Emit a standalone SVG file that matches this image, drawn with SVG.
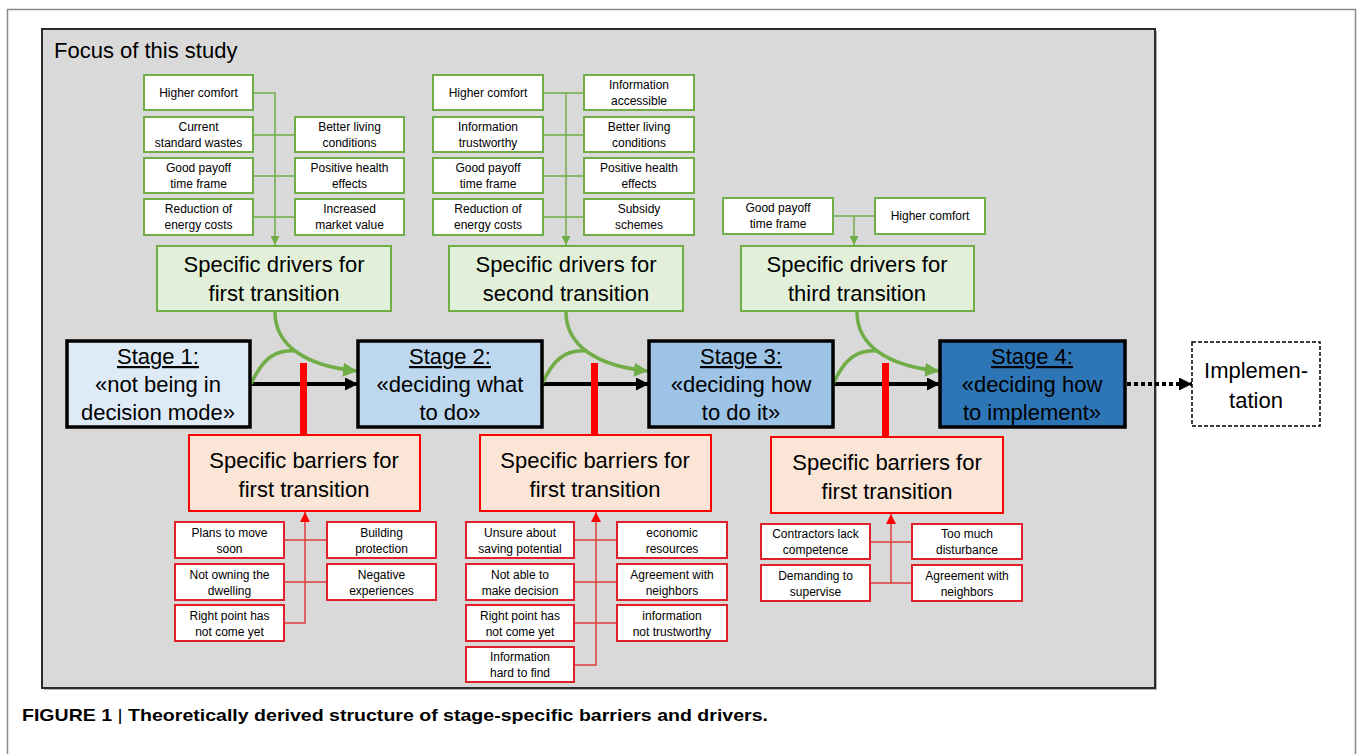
<svg xmlns="http://www.w3.org/2000/svg" width="1357" height="754" viewBox="0 0 1357 754">
<style>
text{font-family:"Liberation Sans","DejaVu Sans",sans-serif;fill:#000;}
.it{font-size:12px;text-anchor:middle;}
.big{font-size:22px;text-anchor:middle;}
.st{font-size:22px;text-anchor:middle;}
.dbox{fill:#fff;stroke:#70ad47;stroke-width:2;}
.bbox{fill:#fff;stroke:#e0202a;stroke-width:2;}
.dmain{fill:#e2f0d9;stroke:#70ad47;stroke-width:2;}
.bmain{fill:#fbe5d6;stroke:#ff0000;stroke-width:2;}
.stage{stroke:#000;stroke-width:3.5;}
.gl{fill:none;stroke:#70ad47;stroke-width:1.5;}
.rl{fill:none;stroke:#e03c3c;stroke-width:1.5;}
.gc{fill:none;stroke:#70ad47;stroke-width:3.5;}
.bk{fill:none;stroke:#000;stroke-width:4;}
.bar{fill:#ff0000;}
</style>
<defs>
<marker id="aBlack" viewBox="0 0 10 10" refX="10" refY="5" markerWidth="13" markerHeight="13" markerUnits="userSpaceOnUse" orient="auto"><path d="M0,0 L10,5 L0,10 z" fill="#000"/></marker>
<marker id="aGreen" viewBox="0 0 10 10" refX="10" refY="5" markerWidth="14" markerHeight="14" markerUnits="userSpaceOnUse" orient="auto"><path d="M0,0 L10,5 L0,10 z" fill="#70ad47"/></marker>
<marker id="aGreenS" viewBox="0 0 10 10" refX="10" refY="5" markerWidth="9" markerHeight="9" markerUnits="userSpaceOnUse" orient="auto"><path d="M0,0 L10,5 L0,10 z" fill="#70ad47"/></marker>
<marker id="aRedS" viewBox="0 0 10 10" refX="10" refY="5" markerWidth="10" markerHeight="10" markerUnits="userSpaceOnUse" orient="auto"><path d="M0,0 L10,5 L0,10 z" fill="#ff0000"/></marker>
</defs>

<rect x="0" y="0" width="1357" height="754" fill="#fff"/>
<path d="M7.5,760 V9.5 H1355.5 V760" fill="none" stroke="#8a8a8a" stroke-width="1.5"/>

<g id="panel">
<rect x="44" y="31" width="1113" height="659" fill="#6a6a6a" opacity="0.5"/>
<rect x="42" y="29" width="1113" height="659" fill="#d9d9d9" stroke="#2b2b2b" stroke-width="2"/>
<text x="54" y="58" style="font-size:22px">Focus of this study</text>
</g>

<g id="connectors">
<path class="gl" d="M253,93 H275 V245" marker-end="url(#aGreenS)"/>
<path class="gl" d="M253,135 H295 M253,176 H295 M253,217 H295"/>
<path class="gl" d="M543,93 H584 M543,135 H584 M543,176 H584 M543,217 H584"/>
<path class="gl" d="M566,93 V245" marker-end="url(#aGreenS)"/>
<path class="gl" d="M833,216 H875"/>
<path class="gl" d="M854,216 V245" marker-end="url(#aGreenS)"/>
<path class="rl" d="M284,540 H327 M284,582 H327"/>
<path class="rl" d="M284,623 H305 V512" marker-end="url(#aRedS)"/>
<path class="rl" d="M574,540 H617 M574,582 H617 M574,623 H617"/>
<path class="rl" d="M574,665 H596 V512" marker-end="url(#aRedS)"/>
<path class="rl" d="M870,542 H912 M870,583 H912"/>
<path class="rl" d="M891,583 V514" marker-end="url(#aRedS)"/>
<path class="bk" d="M251,384 H358" marker-end="url(#aBlack)"/>
<path class="bk" d="M542,384 H649" marker-end="url(#aBlack)"/>
<path class="bk" d="M833,384 H940" marker-end="url(#aBlack)"/>
<path class="bk" d="M1127,384 H1192" stroke-dasharray="4 3" marker-end="url(#aBlack)"/>
<path class="gc" d="M275,312 C275,345 305,366 357,371" marker-end="url(#aGreen)"/>
<path class="gc" d="M251,384 C262,360 274,349 296,351"/>
<path class="gc" d="M566,312 C566,345 596,366 648,371" marker-end="url(#aGreen)"/>
<path class="gc" d="M542,384 C553,360 565,349 587,351"/>
<path class="gc" d="M857,312 C857,345 887,366 939,371" marker-end="url(#aGreen)"/>
<path class="gc" d="M833,384 C844,360 856,349 878,351"/>
<rect class="bar" x="300" y="363" width="7" height="73"/>
<rect class="bar" x="591" y="363" width="7" height="73"/>
<rect class="bar" x="882" y="363" width="7" height="75"/>
</g>

<g id="stage1"><rect class="stage" x="67" y="341" width="183" height="86" fill="#deebf7"/>
<text class="st" x="158" y="364" text-decoration="underline">Stage 1:</text>
<text class="st" x="158" y="392">«not being in</text>
<text class="st" x="158" y="420">decision mode»</text></g>
<g id="stage2"><rect class="stage" x="358" y="341" width="184" height="86" fill="#bdd7ee"/>
<text class="st" x="450" y="364" text-decoration="underline">Stage 2:</text>
<text class="st" x="450" y="392">«deciding what</text>
<text class="st" x="450" y="420">to do»</text></g>
<g id="stage3"><rect class="stage" x="649" y="341" width="184" height="86" fill="#9dc3e6"/>
<text class="st" x="741" y="364" text-decoration="underline">Stage 3:</text>
<text class="st" x="741" y="392">«deciding how</text>
<text class="st" x="741" y="420">to do it»</text></g>
<g id="stage4"><rect class="stage" x="940" y="341" width="185" height="86" fill="#2e75b6"/>
<text class="st" x="1032" y="364" text-decoration="underline">Stage 4:</text>
<text class="st" x="1032" y="392">«deciding how</text>
<text class="st" x="1032" y="420">to implement»</text></g>
<g id="implementation"><rect x="1192" y="342" width="128" height="84" fill="#fff" stroke="#000" stroke-width="1.5" stroke-dasharray="4 2"/>
<text class="st" x="1256" y="378">Implemen-</text>
<text class="st" x="1256" y="408">tation</text></g>

<g id="drivers1"><rect class="dmain" x="157" y="246" width="234" height="65"/>
<text class="big" x="274" y="272">Specific drivers for</text><text class="big" x="274" y="301">first transition</text></g>
<g id="drivers2"><rect class="dmain" x="449" y="246" width="234" height="65"/>
<text class="big" x="566" y="272">Specific drivers for</text><text class="big" x="566" y="301">second transition</text></g>
<g id="drivers3"><rect class="dmain" x="741" y="246" width="233" height="65"/>
<text class="big" x="857" y="272">Specific drivers for</text><text class="big" x="857" y="301">third transition</text></g>

<g id="barriers1"><rect class="bmain" x="189" y="435" width="231" height="76"/>
<text class="big" x="304" y="468">Specific barriers for</text><text class="big" x="304" y="497">first transition</text></g>
<g id="barriers2"><rect class="bmain" x="480" y="435" width="231" height="76"/>
<text class="big" x="595" y="468">Specific barriers for</text><text class="big" x="595" y="497">first transition</text></g>
<g id="barriers3"><rect class="bmain" x="771" y="437" width="232" height="76"/>
<text class="big" x="887" y="470">Specific barriers for</text><text class="big" x="887" y="499">first transition</text></g>

<g id="d1a"><rect class="dbox" x="144" y="75" width="109" height="35"/><text class="it" x="198.5" y="97">Higher comfort</text></g>
<g id="d1b"><rect class="dbox" x="144" y="117" width="109" height="35"/><text class="it" x="198.5" y="131">Current</text><text class="it" x="198.5" y="147">standard wastes</text></g>
<g id="d1c"><rect class="dbox" x="144" y="158" width="109" height="35"/><text class="it" x="198.5" y="172">Good payoff</text><text class="it" x="198.5" y="188">time frame</text></g>
<g id="d1d"><rect class="dbox" x="144" y="199" width="109" height="36"/><text class="it" x="198.5" y="213">Reduction of</text><text class="it" x="198.5" y="229">energy costs</text></g>
<g id="d1e"><rect class="dbox" x="295" y="117" width="109" height="35"/><text class="it" x="349.5" y="131">Better living</text><text class="it" x="349.5" y="147">conditions</text></g>
<g id="d1f"><rect class="dbox" x="295" y="158" width="109" height="35"/><text class="it" x="349.5" y="172">Positive health</text><text class="it" x="349.5" y="188">effects</text></g>
<g id="d1g"><rect class="dbox" x="295" y="199" width="109" height="36"/><text class="it" x="349.5" y="213">Increased</text><text class="it" x="349.5" y="229">market value</text></g>

<g id="d2a"><rect class="dbox" x="433" y="75" width="110" height="35"/><text class="it" x="488" y="97">Higher comfort</text></g>
<g id="d2b"><rect class="dbox" x="584" y="75" width="110" height="35"/><text class="it" x="639" y="89">Information</text><text class="it" x="639" y="105">accessible</text></g>
<g id="d2c"><rect class="dbox" x="433" y="117" width="110" height="35"/><text class="it" x="488" y="131">Information</text><text class="it" x="488" y="147">trustworthy</text></g>
<g id="d2d"><rect class="dbox" x="584" y="117" width="110" height="35"/><text class="it" x="639" y="131">Better living</text><text class="it" x="639" y="147">conditions</text></g>
<g id="d2e"><rect class="dbox" x="433" y="158" width="110" height="35"/><text class="it" x="488" y="172">Good payoff</text><text class="it" x="488" y="188">time frame</text></g>
<g id="d2f"><rect class="dbox" x="584" y="158" width="110" height="35"/><text class="it" x="639" y="172">Positive health</text><text class="it" x="639" y="188">effects</text></g>
<g id="d2g"><rect class="dbox" x="433" y="199" width="110" height="36"/><text class="it" x="488" y="213">Reduction of</text><text class="it" x="488" y="229">energy costs</text></g>
<g id="d2h"><rect class="dbox" x="584" y="199" width="110" height="36"/><text class="it" x="639" y="213">Subsidy</text><text class="it" x="639" y="229">schemes</text></g>

<g id="d3a"><rect class="dbox" x="723" y="198" width="110" height="36"/><text class="it" x="778" y="212">Good payoff</text><text class="it" x="778" y="228">time frame</text></g>
<g id="d3b"><rect class="dbox" x="875" y="198" width="110" height="36"/><text class="it" x="930" y="220">Higher comfort</text></g>

<g id="b1a"><rect class="bbox" x="175" y="522" width="109" height="36"/><text class="it" x="229.5" y="537">Plans to move</text><text class="it" x="229.5" y="553">soon</text></g>
<g id="b1b"><rect class="bbox" x="327" y="522" width="109" height="36"/><text class="it" x="381.5" y="537">Building</text><text class="it" x="381.5" y="553">protection</text></g>
<g id="b1c"><rect class="bbox" x="175" y="564" width="109" height="36"/><text class="it" x="229.5" y="579">Not owning the</text><text class="it" x="229.5" y="595">dwelling</text></g>
<g id="b1d"><rect class="bbox" x="327" y="564" width="109" height="36"/><text class="it" x="381.5" y="579">Negative</text><text class="it" x="381.5" y="595">experiences</text></g>
<g id="b1e"><rect class="bbox" x="175" y="605" width="109" height="36"/><text class="it" x="229.5" y="620">Right point has</text><text class="it" x="229.5" y="636">not come yet</text></g>

<g id="b2a"><rect class="bbox" x="466" y="522" width="108" height="36"/><text class="it" x="520" y="537">Unsure about</text><text class="it" x="520" y="553">saving potential</text></g>
<g id="b2b"><rect class="bbox" x="617" y="522" width="110" height="36"/><text class="it" x="672" y="537">economic</text><text class="it" x="672" y="553">resources</text></g>
<g id="b2c"><rect class="bbox" x="466" y="564" width="108" height="36"/><text class="it" x="520" y="579">Not able to</text><text class="it" x="520" y="595">make decision</text></g>
<g id="b2d"><rect class="bbox" x="617" y="564" width="110" height="36"/><text class="it" x="672" y="579">Agreement with</text><text class="it" x="672" y="595">neighbors</text></g>
<g id="b2e"><rect class="bbox" x="466" y="605" width="108" height="36"/><text class="it" x="520" y="620">Right point has</text><text class="it" x="520" y="636">not come yet</text></g>
<g id="b2f"><rect class="bbox" x="617" y="605" width="110" height="36"/><text class="it" x="672" y="620">information</text><text class="it" x="672" y="636">not trustworthy</text></g>
<g id="b2g"><rect class="bbox" x="466" y="647" width="108" height="35"/><text class="it" x="520" y="661">Information</text><text class="it" x="520" y="677">hard to find</text></g>

<g id="b3a"><rect class="bbox" x="761" y="524" width="109" height="35"/><text class="it" x="815.5" y="538">Contractors lack</text><text class="it" x="815.5" y="554">competence</text></g>
<g id="b3b"><rect class="bbox" x="912" y="524" width="110" height="35"/><text class="it" x="967" y="538">Too much</text><text class="it" x="967" y="554">disturbance</text></g>
<g id="b3c"><rect class="bbox" x="761" y="565" width="109" height="36"/><text class="it" x="815.5" y="580">Demanding to</text><text class="it" x="815.5" y="596">supervise</text></g>
<g id="b3d"><rect class="bbox" x="912" y="565" width="110" height="36"/><text class="it" x="967" y="580">Agreement with</text><text class="it" x="967" y="596">neighbors</text></g>

<g id="caption">
<text x="22" y="721" style="font-size:17px;font-weight:bold" textLength="746" lengthAdjust="spacingAndGlyphs">FIGURE 1 <tspan style="font-weight:normal">|</tspan> Theoretically derived structure of stage-specific barriers and drivers.</text>
</g>
</svg>
